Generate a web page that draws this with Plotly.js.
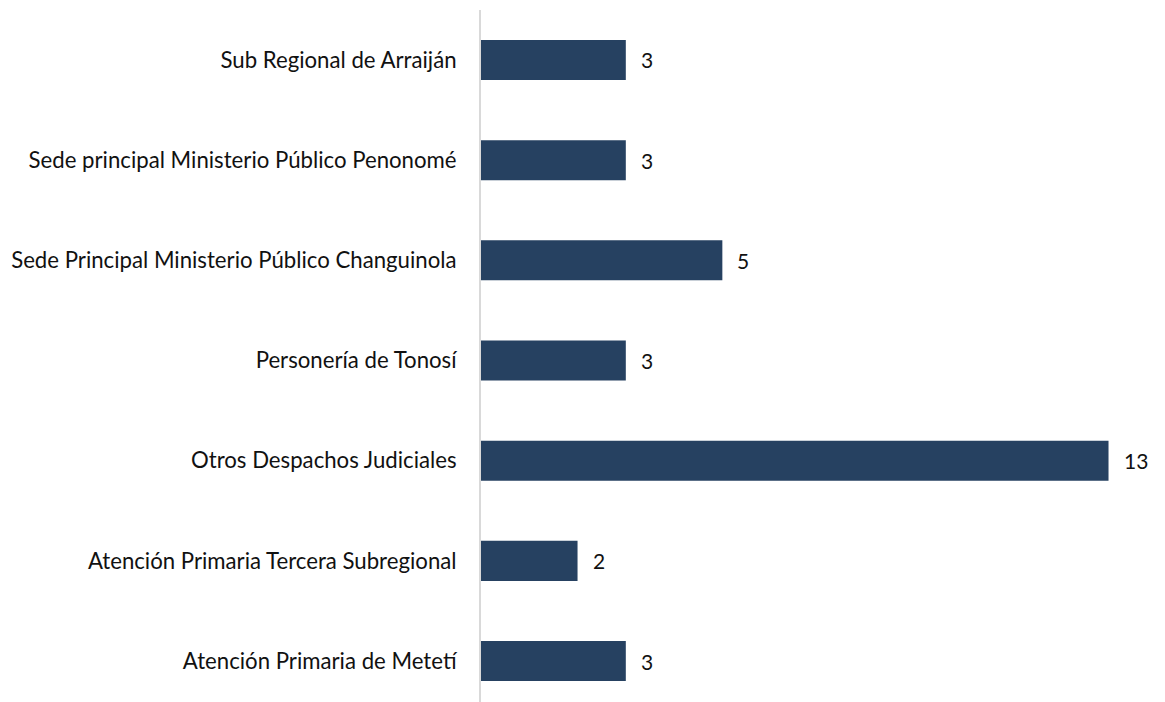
<!DOCTYPE html>
<html><head><meta charset="utf-8">
<script src="https://cdn.plot.ly/plotly-3.0.1.min.js"></script>
<style>html,body{margin:0;padding:0;background:#fff}#chart{width:1165px;height:702px}</style>
</head><body><div id="chart"></div>
<script>
// bottom to top
const categories = [
  "Atención Primaria de Metetí",
  "Atención Primaria Tercera Subregional",
  "Otros Despachos Judiciales",
  "Personería de Tonosí",
  "Sede Principal Ministerio Público Changuinola",
  "Sede principal Ministerio Público Penonomé",
  "Sub Regional de Arraiján"
];
const values = [3, 2, 13, 3, 5, 3, 3];
const barColor = "#264161";
const fontFam = "Lato, 'Open Sans', sans-serif";

const trace = {
  type: "bar", orientation: "h",
  x: values, y: categories,
  marker: {color: barColor},
  width: 0.4,
  hoverinfo: "x+y"
};
const annotations = categories.map((c, i) => ({
  x: values[i], y: c, xref: "x", yref: "y",
  text: String(values[i]), showarrow: false,
  xanchor: "left", xshift: 13,
  font: {family: fontFam, size: 21, color: "#111"}
}));
const layout = {
  width: 1165, height: 702,
  margin: {l: 481, r: 0, t: 10, b: 0},
  paper_bgcolor: "#fff", plot_bgcolor: "#fff",
  showlegend: false,
  xaxis: {range: [0, 14.17], showgrid: false, zeroline: false, showticklabels: false, showline: false, ticks: ""},
  yaxis: {type: "category", categoryorder: "array", categoryarray: categories,
    range: [-0.409, 6.499], showgrid: false, zeroline: false,
    showline: true, linecolor: "#d9d9d9", linewidth: 2, ticks: "",
    ticklabelstandoff: 18,
    tickfont: {family: fontFam, size: 22.2, color: "#111"}},
  annotations: annotations
};
Plotly.newPlot("chart", [trace], layout, {displayModeBar: false, staticPlot: true});
</script></body></html>
